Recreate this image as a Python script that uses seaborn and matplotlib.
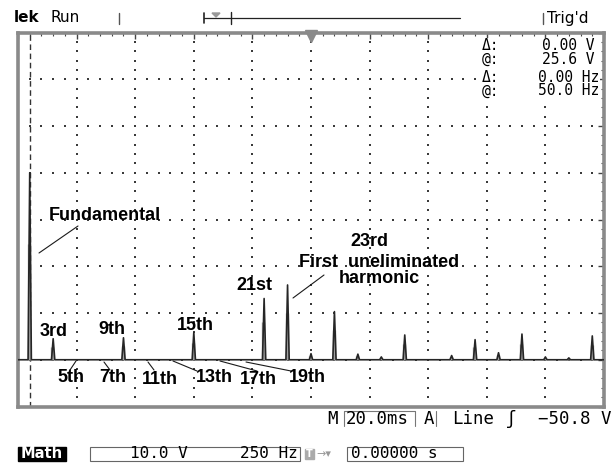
import numpy as np
import pandas as pd
import matplotlib
matplotlib.use("Agg")
import matplotlib.pyplot as plt
from matplotlib.lines import Line2D
from matplotlib.patches import Rectangle, Polygon
import seaborn as sns

# ---------------- data ----------------
fundamental_hz = 50
harmonic_order = [1, 3, 5, 7, 9, 11, 13, 15, 17, 19, 21, 23, 25, 27, 29, 31,
                  33, 35, 37, 39, 41, 43, 45, 47, 49]
amplitude_v = [40.0, 4.5, 0.0, 0.0, 4.7, 0.0, 0.0, 5.8, 0.0, 0.0, 13.1, 16.0,
               1.3, 10.3, 1.2, 0.6, 5.3, 0.0, 0.9, 4.3, 1.5, 5.5, 0.6, 0.4, 5.1]
volts_per_div = 10.0
hz_per_div = 250
cursor_hz = 50.0

label_text = ["Fundamental", "3rd", "9th", "15th", "21st", "23rd",
              "First  uneliminated\nharmonic",
              "5th", "7th", "11th", "13th", "17th", "19th"]

# ---------------- layout (pixels of the 614x463 picture) ----------------
W, H = 614, 463
AX_L, AX_R, AX_T, AX_B = 18, 604, 32.5, 406.5
XMIN, XMAX = 0, 10 * hz_per_div
YMIN, YMAX = -1 * volts_per_div, 7 * volts_per_div

label_px = [(105, 215), (54, 332), (112, 329), (195, 326), (254, 286), (369, 242),
            (379, 270.5),
            (71, 378), (113, 378), (160, 379), (214, 378), (258, 379), (307, 378)]
leader_px = [((39, 253), (78, 226)), ((293, 298), (324, 275)),
             ((76, 361), (70, 370)), ((104, 362), (110, 370)),
             ((148, 362), (154, 370)), ((173, 361), (197, 371)),
             ((220, 361), (257, 371)), ((246, 362), (291, 371))]


def px2data(x, y):
    dx = XMIN + (x - AX_L) / (AX_R - AX_L) * (XMAX - XMIN)
    dy = YMAX - (y - AX_T) / (AX_B - AX_T) * (YMAX - YMIN)
    return dx, dy


sns.set_style("white")
plt.rcParams["font.family"] = ["DejaVu Sans"]

fig = plt.figure(figsize=(W / 100, H / 100), dpi=100)
ax = fig.add_axes([AX_L / W, (H - AX_B) / H, (AX_R - AX_L) / W, (AX_B - AX_T) / H])
ax.set_xlim(XMIN, XMAX)
ax.set_ylim(YMIN, YMAX)

# frame + ticks
for s in ax.spines.values():
    s.set_color("#8a8a8a")
    s.set_linewidth(2.6)
ax.set_xticks(np.arange(XMIN, XMAX + 1, hz_per_div))
ax.set_xticks(np.arange(XMIN, XMAX + 1, hz_per_div / 5), minor=True)
ax.set_yticks(np.arange(YMIN, YMAX + 1, volts_per_div))
ax.set_yticks(np.arange(YMIN, YMAX + 0.01, volts_per_div / 5), minor=True)
ax.tick_params(which="both", direction="in", top=True, right=True,
               labelbottom=False, labelleft=False, color="#444")
ax.tick_params(which="major", length=4, width=1)
ax.tick_params(which="minor", length=2.5, width=0.8)

# dotted graticule
gx, gy = [], []
for yv in np.arange(YMIN + volts_per_div, YMAX, volts_per_div):
    for xv in np.arange(XMIN + hz_per_div / 5, XMAX, hz_per_div / 5):
        gx.append(xv); gy.append(yv)
for xv in np.arange(XMIN + hz_per_div, XMAX, hz_per_div):
    for yv in np.arange(YMIN + volts_per_div / 5, YMAX, volts_per_div / 5):
        gx.append(xv); gy.append(yv)
ax.scatter(gx, gy, s=1.3, marker="s", color="#3a3a3a", linewidths=0, zorder=1)

# blank area behind the cursor readout
r0, r1 = px2data(478, 38), px2data(600, 99)
ax.add_patch(Rectangle((r0[0], r1[1]), r1[0] - r0[0], r0[1] - r1[1],
                       facecolor="white", edgecolor="none", zorder=1.5))

# trigger marker at top centre
ax.plot([(XMIN + XMAX) / 2], [YMAX - 0.7], marker="v", markersize=9,
        color="#8a8a8a", clip_on=False, zorder=5)

# cursor
ax.axvline(cursor_hz, color="#333333", lw=1.0, ls=(0, (4, 2.6)), zorder=2)

# spectrum trace
freqs = np.array(harmonic_order) * fundamental_hz
amps = np.array(amplitude_v)
half = 7
tx, ty = [XMIN], [0.0]
for f, a in zip(freqs, amps):
    if a > 0:
        tx += [f - half, f, f + half]
        ty += [0.0, a, 0.0]
tx.append(XMAX); ty.append(0.0)
trace = pd.DataFrame({"freq": tx, "amp": ty})

nz = amps > 0
ax.vlines(freqs[nz] - 3, 0, amps[nz] * 0.62, color="#a0a0a0", lw=2.4, zorder=3)
sns.lineplot(data=trace, x="freq", y="amp", sort=False, estimator=None,
             color="#262626", lw=1.2, ax=ax, zorder=4)
ax.set_xlabel("")
ax.set_ylabel("")

# annotations
lab_font = dict(family=["Liberation Sans", "DejaVu Sans"], fontweight="bold",
                fontsize=13, color="black", ha="center", va="center",
                multialignment="center", linespacing=0.95)
for txt, (px, py) in zip(label_text, label_px):
    ax.text(*px2data(px, py), txt, zorder=6, **lab_font)
for (p1, p2) in leader_px:
    a1, a2 = px2data(*p1), px2data(*p2)
    ax.add_line(Line2D([a1[0], a2[0]], [a1[1], a2[1]], color="#1a1a1a", lw=0.8, zorder=5))


def ftext(x, y, s, **kw):
    return fig.text(x / W, 1 - y / H, s, **kw)


# cursor readout
mono = dict(family=["DejaVu Sans Mono"], fontsize=10.5, color="black", va="center")
ftext(482, 45, "Δ:", **mono)
ftext(482, 59, "@:", **mono)
ftext(482, 77, "Δ:", **mono)
ftext(482, 91, "@:", **mono)
ftext(595, 45, "0.00 V", ha="right", **mono)
ftext(595, 59, "25.6 V", ha="right", **mono)
ftext(599, 77, "0.00 Hz", ha="right", **mono)
ftext(599, 91, "50.0 Hz", ha="right", **mono)

# header
hdr = dict(family=["DejaVu Sans"], fontsize=11, color="black", va="center")
ftext(14, 18, "lek", fontweight="bold", **hdr)
ftext(50, 18, "Run", **hdr)
ftext(547, 18, "Trig'd", **hdr)


def fline(xs, ys, **kw):
    fig.add_artist(Line2D([x / W for x in xs], [1 - y / H for y in ys],
                          transform=fig.transFigure, **kw))


fline([119, 119], [13, 24], color="#555", lw=1)
fline([543, 543], [13, 24], color="#555", lw=1)
fline([204, 460], [18, 18], color="#222", lw=0.9)
fline([204, 204], [13, 23], color="#222", lw=1.2)
fline([231, 231], [12, 24], color="#222", lw=1)
fig.add_artist(Polygon([[212 / W, 1 - 13 / H], [220 / W, 1 - 13 / H], [216 / W, 1 - 17 / H]],
                       closed=True, transform=fig.transFigure, color="#999"))

# bottom status rows
stat = dict(family=["DejaVu Sans Mono"], fontsize=12.5, color="black", va="center")
ftext(327, 419, "M", **stat)
ftext(346, 419, "20.0ms", **stat)
fline([344, 344, 415, 415], [426, 411, 411, 426], color="#777", lw=0.8)
ftext(424, 419, "A", **stat)
fline([436, 436], [411, 426], color="#777", lw=0.8)
ftext(452, 419, "Line", **stat)
ftext(506, 419, "ʃ", **stat)
ftext(612, 419, "−50.8 V", ha="right", **stat)

fig.add_artist(Rectangle((18 / W, 1 - 461 / H), 48 / W, 14 / H,
                         transform=fig.transFigure, color="black"))
ftext(42, 454, "Math", ha="center", color="white", fontweight="bold",
      family=["DejaVu Sans"], fontsize=10.5, va="center")
fig.add_artist(Rectangle((90 / W, 1 - 461 / H), 210 / W, 14 / H, transform=fig.transFigure,
                         fill=False, ec="#666", lw=0.8))
ftext(188, 454, "10.0 V", ha="right", fontsize=11.5,
      family=["DejaVu Sans Mono"], color="black", va="center")
ftext(298, 454, "250 Hz", ha="right", fontsize=11.5,
      family=["DejaVu Sans Mono"], color="black", va="center")
fig.add_artist(Rectangle((305 / W, 1 - 459 / H), 9 / W, 10 / H,
                         transform=fig.transFigure, color="#aaa"))
ftext(309.5, 454, "T", ha="center", va="center", color="white", fontsize=7, fontweight="bold")
ftext(316, 454, "→▾", color="#999", fontsize=8, va="center")
fig.add_artist(Rectangle((347 / W, 1 - 461 / H), 116 / W, 14 / H, transform=fig.transFigure,
                         fill=False, ec="#666", lw=0.8))
ftext(351, 454, "0.00000 s", fontsize=11.5, family=["DejaVu Sans Mono"],
      color="black", va="center")

fig.savefig("out.png", dpi=100, facecolor="white")
